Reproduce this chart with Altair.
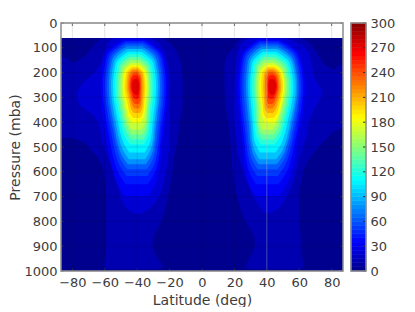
import altair as alt
import pandas as pd

# Each contour: rows of (pressure, west edge latitude, east edge latitude)
base_0 = [(60,-87,87),(1000,-87,87)]

sh_10 = [(60,-61.2,-25.3),(74,-64,-21.6),(101,-68.3,-17),(134,-72.4,-14.6),(161,-80.6,-13),(165,-87,-12.7),(250,-87,-11.9),(316,-87,-11.9),(383,-87,-13.4),(463,-87,-15),(465,-80,-15.1),(485,-72.4,-15.5),(506,-69.4,-16),(533,-65.3,-17),(587,-61.2,-18),(708,-59.1,-21.2),(802,-59.1,-25.3),(856,-59.1,-29.4),(896,-59.1,-30.4),(950,-60,-27.3),(983,-60.5,-24.2),(993,-60,-27)]
sh_10b = [(134,-87,-86.8),(150,-87,-82),(161,-87,-80.6)]
nh_10 = [(60,25,61),(74,22,65),(101,18.9,69.2),(134,15.4,72.2),(161,14.2,74.9),(188,13.8,81.4),(192,13.8,87),(316,14.2,87),(383,15.8,87),(416,16.6,87),(437,16.8,81.4),(477,17.5,75.3),(506,17.9,71.2),(560,18.3,65),(614,19.1,62),(708,22,60),(802,27,60),(862,32.2,61),(896,32.6,61),(950,29.2,62),(985,27.1,62.6),(993,33,58)]
nh_10b = [(161,86.8,87),(175,84,87),(188,81.4,87)]

sh_20 = [(60,-54,-32.4),(74,-57,-28.3),(101,-59.7,-24.2),(161,-62.6,-21.2),(200,-66.3,-20.1),(235,-72.4,-19.7),(295,-77.2,-19.7),(336,-74.5,-19.7),(370,-67.3,-19.7),(423,-63.2,-19.7),(490,-61.2,-20.1),(540,-58,-20.8),(627,-53,-23.2),(708,-49.9,-27.3),(752,-45.7,-33.5),(768,-42,-37)]
nh_20 = [(60,30.2,51.7),(74,26.1,56.8),(101,23,64),(161,20.9,67.5),(235,19.9,70.2),(281,19.5,74.3),(336,19.5,70.2),(396,19.9,66.1),(450,20.9,64.6),(530,22.4,61),(627,27.1,56.8),(708,32.2,51.7),(750,36.4,46.6),(765,38,43)]

sh_30 = [(66,-48.1,-35.7),(85,-53.3,-30.5),(133,-60.1,-23.7),(257,-62.6,-21.2),(500,-58,-24.8),(588,-55.4,-26.4),(645,-52.6,-28.6),(698,-47.6,-33.2)]
sh_40 = [(73,-47.6,-35.8),(91,-52.4,-31),(137,-58.9,-24.5),(257,-61.2,-22.2),(473,-56.8,-25.6),(552,-54.4,-27),(603,-51.7,-29.1),(650,-47,-33.4)]
sh_50 = [(79,-47.1,-36.1),(97,-51.7,-31.5),(141,-57.7,-25.5),(257,-59.9,-23.4),(455,-55.7,-26.5),(527,-53.4,-27.8),(574,-50.9,-29.7),(617,-46.5,-33.7)]
sh_60 = [(86,-46.7,-36.5),(103,-51,-32.2),(146,-56.6,-26.6),(257,-58.7,-24.6),(440,-54.7,-27.5),(507,-52.5,-28.7),(550,-50.2,-30.4),(590,-46.1,-34.1)]
sh_75 = [(95,-46.4,-37),(111,-50.4,-33),(152,-55.6,-27.8),(257,-57.5,-25.9),(429,-53.8,-28.6),(492,-51.8,-29.6),(532,-49.6,-31.2),(570,-45.7,-34.7)]
sh_90 = [(105,-46,-37.2),(120,-49.6,-33.6),(158,-54.4,-28.8),(257,-56.2,-27.1),(418,-52.7,-29.5),(476,-50.8,-30.4),(514,-48.7,-31.9),(549,-45.2,-35)]
sh_105 = [(116,-45.6,-37.6),(130,-48.9,-34.3),(165,-53.3,-29.9),(257,-55,-28.3),(403,-51.7,-30.5),(456,-49.9,-31.3),(490,-48,-32.6),(522,-44.8,-35.4)]
sh_120 = [(126,-45.3,-38.1),(139,-48.2,-35.2),(172,-52.2,-31.2),(257,-53.6,-29.8),(385,-50.7,-31.7),(432,-49,-32.4),(462,-47.3,-33.5),(490,-44.4,-36)]
sh_135 = [(137,-44.8,-38.4),(149,-47.4,-35.8),(179,-50.9,-32.3),(257,-52.3,-31),(374,-49.6,-32.6),(417,-48,-33.2),(444,-46.4,-34.2),(470,-43.8,-36.4)]
sh_150 = [(148,-44.4,-38.8),(159,-46.8,-36.4),(186,-49.9,-33.3),(257,-51.1,-32.2),(363,-48.6,-33.6),(402,-47.2,-34),(427,-45.8,-34.8),(450,-43.4,-36.8)]
sh_165 = [(159,-43.9,-38.9),(169,-46,-36.8),(193,-48.8,-34),(257,-49.9,-33),(352,-47.6,-34.2),(387,-46.5,-34.7),(409,-45.4,-35.6),(430,-43.3,-37.5)]
sh_180 = [(168,-43.7,-39.3),(177,-45.6,-37.4),(199,-48,-35),(257,-48.9,-34.1),(337,-46.9,-35.1),(367,-45.9,-35.5),(385,-44.9,-36.3),(403,-43.1,-37.9)]
sh_195 = [(176,-43.2,-39.4),(184,-44.8,-37.8),(204,-46.9,-35.7),(257,-47.8,-34.9),(326,-45.9,-35.7),(352,-45.1,-36.1),(368,-44.1,-36.7),(383,-42.5,-38.1)]
sh_210 = [(183,-42.8,-39.6),(190,-44.1,-38.3),(209,-45.9,-36.5),(257,-46.6,-35.9),(315,-44.9,-36.5),(337,-44.2,-36.8),(350,-43.5,-37.3),(363,-42.1,-38.3)]
sh_225 = [(191,-42.6,-40),(198,-43.7,-38.9),(214,-45.1,-37.5),(257,-45.6,-37),(305,-44.2,-37.4),(323,-43.6,-37.6),(334,-42.9,-37.9),(345,-41.8,-38.8)]
sh_240 = [(200,-42.1,-40.1),(206,-43,-39.2),(220,-44.2,-38),(257,-44.7,-37.6),(295,-43.6,-38),(310,-43,-38),(319,-42.4,-38.4),(327,-41.5,-39.1)]
sh_255 = [(211,-42,-40.2),(216,-42.7,-39.5),(227,-43.7,-38.5),(257,-44.1,-38.2),(284,-43.1,-38.5),(294,-42.7,-38.7),(300,-42.3,-38.9),(306,-41.5,-39.5)]
sh_270 = [(226,-41.7,-40.3),(229,-42.2,-39.8),(237,-42.9,-39.1),(257,-43.3,-38.8),(275,-42.8,-39.2),(281,-42.2,-39.2),(285,-41.9,-39.3),(289,-41.3,-39.7)]

nh_30 = [(66,35.1,47.5),(85,30.4,53.1),(133,24,60.6),(257,22,63.6),(500,25.2,58.4),(588,26.5,55.7),(645,28.6,52.8),(698,33,47.6)]
nh_40 = [(73,35.4,47.2),(91,31,52.6),(137,25.1,59.5),(257,23.2,62.4),(473,26.1,57.5),(552,27.4,54.8),(603,29.3,52.1),(650,33.4,47.2)]
nh_50 = [(79,35.7,46.7),(97,31.6,51.9),(141,26.1,58.4),(257,24.4,61.1),(455,27,56.5),(527,28.3,53.9),(574,30.1,51.3),(617,33.9,46.7)]
nh_60 = [(86,36.2,46.6),(103,32.4,51.4),(146,27.3,57.5),(257,25.7,60.1),(440,28.1,55.7),(507,29.2,53.2),(550,30.8,50.8),(590,34.4,46.4)]
nh_75 = [(95,36.7,46.3),(111,33.3,50.7),(152,28.5,56.5),(257,27.1,58.9),(429,29.3,54.7),(492,30.2,52.4),(532,31.7,50.1),(570,34.9,46.1)]
nh_90 = [(105,37.2,46),(120,34,50.2),(158,29.6,55.6),(257,28.3,57.9),(418,30.3,53.9),(476,31,51.8),(514,32.4,49.6),(549,35.4,45.8)]
nh_105 = [(116,37.5,45.5),(130,34.6,49.4),(165,30.7,54.3),(257,29.6,56.4),(403,31.3,52.7),(456,31.9,50.7),(490,33.1,48.7),(522,35.8,45.2)]
nh_120 = [(126,37.8,45.2),(139,35.3,48.7),(172,31.8,53.2),(257,30.8,55.2),(385,32.2,51.8),(432,32.8,49.8),(462,33.8,48),(490,36.2,44.8)]
nh_135 = [(137,38.3,44.9),(149,36.1,48.1),(179,33,52.2),(257,32.2,54),(374,33.4,50.8),(417,33.8,49),(444,34.7,47.3),(470,36.8,44.4)]
nh_150 = [(148,38.6,44.4),(159,36.6,47.4),(186,33.9,51.1),(257,33.2,52.7),(363,34.2,49.8),(402,34.5,48.1),(427,35.2,46.6),(450,37.1,43.9)]
nh_165 = [(159,38.9,44.1),(169,37.3,46.7),(193,35,50),(257,34.5,51.5),(352,35.2,48.8),(387,35.3,47.3),(409,36,45.8),(430,37.5,43.5)]
nh_180 = [(168,40,44.6),(177,38.4,46.8),(199,36.1,49.5),(257,35.5,50.7),(337,36.5,48.7),(367,36.9,47.5),(385,37.6,46.4),(403,39.1,44.5)]
nh_195 = [(176,40.4,44.4),(184,39,46.4),(204,37,48.8),(257,36.5,49.9),(326,37.3,48.1),(352,37.6,47),(368,38.2,46),(383,39.6,44.2)]
nh_210 = [(183,40.8,44.2),(190,39.8,45.8),(209,38.3,47.9),(257,37.8,48.8),(315,38.4,47.2),(337,38.5,46.3),(350,39,45.4),(363,40.1,43.9)]
nh_225 = [(191,41.1,43.9),(198,40.3,45.3),(214,39,47.1),(257,38.8,47.8),(305,39.2,46.4),(323,39.2,45.6),(334,39.6,44.8),(345,40.4,43.6)]
nh_240 = [(200,41.5,43.7),(206,40.9,44.9),(220,39.9,46.3),(257,39.8,47),(295,40,45.8),(310,40,45),(319,40.2,44.4),(327,40.8,43.4)]
nh_255 = [(211,42.1,43.9),(216,41.4,44.8),(227,40.6,45.8),(257,40.4,46.4),(284,40.7,45.5),(294,40.6,44.8),(300,41,44.4),(306,41.7,43.7)]
nh_270 = [(226,42.5,43.9),(229,41.9,44.5),(237,41.2,45.4),(257,41,45.8),(275,41.3,45.1),(281,41.6,45),(285,41.9,44.7),(289,42.4,44)]

contours = [
    (0, base_0), (10, sh_10), (10, sh_10b), (10, nh_10), (10, nh_10b), (20, sh_20), (20, nh_20),
    (30, sh_30), (30, nh_30), (40, sh_40), (40, nh_40), (50, sh_50), (50, nh_50), (60, sh_60), (60, nh_60),
    (75, sh_75), (75, nh_75), (90, sh_90), (90, nh_90), (105, sh_105), (105, nh_105), (120, sh_120), (120, nh_120),
    (135, sh_135), (135, nh_135), (150, sh_150), (150, nh_150), (165, sh_165), (165, nh_165), (180, sh_180), (180, nh_180),
    (195, sh_195), (195, nh_195), (210, sh_210), (210, nh_210), (225, sh_225), (225, nh_225), (240, sh_240), (240, nh_240),
    (255, sh_255), (255, nh_255), (270, sh_270), (270, nh_270),
]

lat_ticks = [-80, -60, -40, -20, 0, 20, 40, 60, 80]
p_ticks = [0, 100, 200, 300, 400, 500, 600, 700, 800, 900, 1000]
bar_ticks = [0, 30, 60, 90, 120, 150, 180, 210, 240, 270, 300]
bar_values = [0,5,10,15,20,25,30,35,40,45,50,55,60,65,70,75,80,85,90,95,100,105,110,115,120,125,130,135,140,145,150,155,160,165,170,175,180,185,190,195,200,205,210,215,220,225,230,235,240,245,250,255,260,265,270,275,280,285,290,295]
jet_stops = [0, 33, 108, 183, 261, 300]
jet_colors = ["#00008f", "#0000ff", "#00ffff", "#ffff00", "#ff0000", "#800000"]

rows = []
for i, (level, pts) in enumerate(contours):
    for p, w, e in pts:
        rows.append({"id": i, "level": level, "p": p, "west": w, "east": e})
df = pd.DataFrame(rows)

FONT = "DejaVu Sans"
TXT = "#3c3c3c"
FS = 13
TS = 14
xs = alt.Scale(domain=[-87, 87], nice=False, zero=False)
ys = alt.Scale(domain=[1000, 0], nice=False, zero=False)
cs = alt.Scale(domain=jet_stops, range=jet_colors, interpolate="rgb")

yaxis = alt.Axis(values=p_ticks, ticks=False, domain=False, grid=False, labelPadding=4, format="d", title="Pressure (mba)",
                 labelFont=FONT, labelFontSize=FS, labelColor=TXT, titleFont=FONT,
                 titleFontSize=TS, titleColor=TXT, titleFontWeight="normal", titlePadding=1)
xaxis = alt.Axis(values=lat_ticks, ticks=False, domain=False, grid=False, labelPadding=5, format="d", title="Latitude (deg)",
                 labelFont=FONT, labelFontSize=FS, labelColor=TXT, titleFont=FONT,
                 titleFontSize=TS, titleColor=TXT, titleFontWeight="normal", titlePadding=4)

areas = alt.Chart(df).mark_area(orient="horizontal", interpolate="monotone").encode(
    y=alt.Y("p:Q", scale=ys, axis=yaxis),
    x=alt.X("west:Q", scale=xs, axis=xaxis),
    x2="east:Q",
    color=alt.Color("level:Q", scale=cs, legend=None),
    detail="id:N",
)

def vrules(lats, p0, p1):
    return pd.DataFrame({"lat": lats, "p0": [p0] * len(lats), "p1": [p1] * len(lats)})

def hrules(ps, l0, l1):
    return pd.DataFrame({"p": ps, "l0": [l0] * len(ps), "l1": [l1] * len(ps)})

def vlayer(d, color, opacity, width=1):
    return alt.Chart(d).mark_rule(color=color, opacity=opacity, strokeWidth=width).encode(
        x=alt.X("lat:Q", scale=xs, axis=xaxis), y=alt.Y("p0:Q", scale=ys, axis=yaxis), y2="p1:Q")

def hlayer(d, color, opacity, width=1):
    return alt.Chart(d).mark_rule(color=color, opacity=opacity, strokeWidth=width).encode(
        y=alt.Y("p:Q", scale=ys, axis=yaxis), x=alt.X("l0:Q", scale=xs, axis=xaxis), x2="l1:Q")

frame = alt.Chart(pd.DataFrame({"l0": [-87], "l1": [87], "p0": [0], "p1": [1000]})).mark_rect(
    filled=False, stroke="#8c8c8c", strokeWidth=1.5).encode(
    x=alt.X("l0:Q", scale=xs, axis=xaxis), x2="l1:Q", y=alt.Y("p0:Q", scale=ys, axis=yaxis), y2="p1:Q")

main = alt.layer(
    areas,
    vlayer(vrules(lat_ticks, 0, 1000), "#000000", 0.11),
    hlayer(hrules(p_ticks, -87, 87), "#000000", 0.11),
    vlayer(vrules([40], 60, 1000), "#ffffff", 0.28),
    vlayer(vrules(lat_ticks, 0, 12), "#333333", 0.7),
    vlayer(vrules(lat_ticks, 988, 1000), "#333333", 0.7),
    hlayer(hrules(p_ticks, -87, -85.2), "#333333", 0.7),
    hlayer(hrules(p_ticks, 85.2, 87), "#333333", 0.7),
    frame,
).properties(width=282, height=248)

bar_df = pd.DataFrame({"v": bar_values, "v2": bar_values[1:] + [300]})
bys = alt.Scale(domain=[0, 300], nice=False, zero=False)
baxis = alt.Axis(orient="right", values=bar_ticks, ticks=False, domain=False, grid=False, labelPadding=4, title=None,
                 labelFont=FONT, labelFontSize=FS, labelColor=TXT)
bar = alt.Chart(bar_df).mark_rect(strokeWidth=0.6).encode(
    y=alt.Y("v:Q", scale=bys, axis=baxis),
    y2="v2:Q",
    x=alt.value(0), x2=alt.value(15),
    color=alt.Color("v:Q", scale=cs, legend=None),
    stroke=alt.Stroke("v:Q", scale=cs, legend=None),
)
bar_marks = alt.Chart(pd.DataFrame({"v": bar_ticks})).mark_rule(color="#333333").encode(
    y=alt.Y("v:Q", scale=bys, axis=baxis), x=alt.value(12), x2=alt.value(15))
bar_frame = alt.Chart(pd.DataFrame({"a": [0], "b": [300]})).mark_rect(
    filled=False, stroke="#8c8c8c", strokeWidth=1.5).encode(
    y=alt.Y("a:Q", scale=bys, axis=baxis), y2="b:Q", x=alt.value(0), x2=alt.value(15))
cbar = alt.layer(bar, bar_marks, bar_frame).properties(width=15, height=248)

chart = alt.hconcat(main, cbar, spacing=6).properties(
    padding={"left": 0, "top": 9, "right": 0, "bottom": 0},
    background="white",
).configure_view(stroke=None)

chart.save("out.html", embed_options={"renderer": "svg", "actions": False})
